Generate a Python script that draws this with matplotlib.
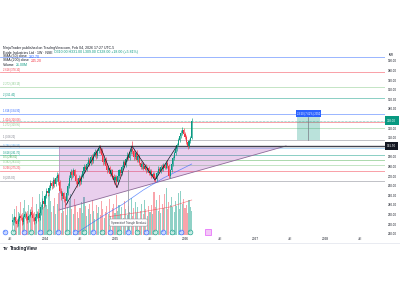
import matplotlib
matplotlib.use("Agg")
import matplotlib.pyplot as plt
import numpy as np
from matplotlib.patches import Polygon, Rectangle
from matplotlib.lines import Line2D

plt.rcParams["font.family"] = ["Liberation Sans", "DejaVu Sans"]

# weekly candles, x = weeks since 2023-01-01
first_week = 28
closes = [
    224, 227, 223, 220, 225, 229, 226, 222, 228, 231,
    227, 224, 229, 233, 230, 226, 223, 228, 231, 226,
    232, 238, 244, 241, 249, 255, 252, 258, 263, 260,
    266, 262, 268, 271, 264, 255, 249, 252, 246, 244,
    252, 260, 268, 274, 271, 276, 270, 265, 262, 268,
    264, 270, 275, 280, 277, 283, 287, 284, 290, 286,
    292, 295, 291, 296, 299, 297, 292, 285, 288, 281,
    276, 279, 272, 276, 270, 266, 269, 264, 270, 276,
    273, 280, 285, 282, 288, 292, 289, 295, 298, 296,
    290, 294, 287, 291, 284, 280, 283, 278, 281, 276,
    279, 273, 275, 270, 272, 268, 267, 273, 278, 275,
    280, 277, 282, 279, 284, 281, 270, 276, 283, 289,
    294, 298, 303, 308, 312, 315, 318, 314, 311, 306,
    301, 307, 310, 328,
]
highs = [
    227, 229, 228, 225, 227, 232, 231, 228, 230, 234,
    233, 229, 231, 236, 235, 232, 228, 230, 234, 233,
    234, 241, 247, 246, 251, 258, 257, 261, 266, 265,
    269, 268, 270, 274, 273, 266, 258, 255, 254, 249,
    254, 263, 271, 277, 276, 279, 278, 272, 268, 271,
    270, 272, 278, 283, 282, 285, 290, 289, 292, 293,
    294, 298, 297, 298, 302, 302, 299, 294, 290, 290,
    284, 281, 281, 278, 278, 272, 271, 271, 272, 278,
    278, 282, 287, 287, 290, 295, 294, 297, 301, 307,
    298, 296, 297, 293, 293, 286, 285, 285, 283, 283,
    281, 281, 277, 277, 274, 274, 270, 275, 281, 280,
    282, 283, 284, 284, 286, 287, 283, 278, 285, 291,
    296, 300, 305, 310, 314, 318, 321, 320, 316, 313,
    308, 309, 312, 331,
]
lows = [
    219, 222, 221, 217, 218, 223, 224, 219, 220, 226,
    224, 221, 222, 227, 228, 223, 220, 221, 226, 223,
    224, 230, 236, 238, 239, 247, 249, 250, 256, 257,
    258, 259, 260, 265, 261, 252, 245, 246, 243, 238,
    242, 250, 258, 266, 268, 269, 267, 262, 259, 260,
    261, 262, 268, 273, 274, 275, 281, 281, 282, 283,
    284, 290, 288, 289, 294, 294, 289, 282, 283, 278,
    273, 274, 270, 270, 267, 262, 264, 259, 262, 268,
    270, 271, 278, 280, 280, 286, 287, 287, 293, 293,
    287, 288, 285, 285, 282, 277, 278, 276, 276, 273,
    274, 271, 271, 268, 268, 265, 264, 265, 271, 273,
    273, 275, 275, 277, 277, 279, 268, 268, 274, 281,
    287, 292, 296, 301, 306, 310, 313, 312, 309, 304,
    298, 299, 305, 309,
]
vols = [
    18, 22, 15, 25, 20, 14, 28, 19, 23, 30,
    17, 21, 26, 16, 24, 33, 20, 18, 27, 22,
    35, 28, 38, 24, 31, 26, 22, 34, 29, 20,
    25, 32, 18, 27, 36, 23, 19, 30, 21, 26,
    17, 24, 29, 35, 22, 18, 31, 26, 20, 15,
    23, 28, 19, 33, 25, 16, 22, 27, 18, 30,
    21, 14, 26, 19, 24, 17, 29, 22, 15, 20,
    25, 18, 31, 16, 23, 27, 19, 34, 21, 26,
    18, 24, 15, 29, 22, 17, 25, 20, 32, 16,
    23, 28, 19, 24, 14, 21, 27, 18, 30, 22,
    16, 25, 20, 26, 18, 37, 24, 30, 21, 34,
    19, 27, 23, 35, 40, 22, 28, 26, 33, 24,
    20, 29, 25, 36, 22, 38, 27, 31, 23, 26,
    19, 30, 24, 21,
]
first_open = 222

# moving averages (sampled points)
sma50_weeks = [65, 80, 95, 110, 125, 140, 155, 161]
sma50_vals = [201.5, 215.0, 228.5, 241.0, 255.6, 268.1, 278.5, 282.7]
sma200_weeks = [100, 125, 145, 161]
sma200_vals = [228.0, 233.0, 238.0, 245.2]

# drawings
fib_low, fib_high = 265.0, 308.2
fib_levels = [0, 0.236, 0.382, 0.5, 0.618, 0.786, 1, 1.272, 1.414, 1.618, 2, 2.272, 2.618, 3]
fib_colors = ["#787b86", "#f23645", "#81c784", "#4caf50", "#089981", "#64b5f6", "#787b86",
              "#81c784", "#f23645", "#2962ff", "#089981", "#81c784", "#f23645", "#2962ff"]
hline_price = 301.5
triangle_weeks = [62.4, 62.4, 231.1]
triangle_prices = [301.5, 234.8, 301.5]
zigzag_weeks = [67.6, 92.9, 105.5, 116.6, 133.7, 150.0]
zigzag_prices = [240, 301.5, 258, 301.5, 266, 301.5]
vline_week, vline_top = 113.7, 276
pattern_label = "Symmetrical Triangle Breakout"
long_start, long_end = 239.2, 256.3
long_entry, long_target = 308.2, 331.7

earn_weeks = [22.3, 36.4, 48.3, 61.7, 74.3, 87.7, 100.3, 113.7, 127, 139.7, 153]
div_weeks = [28.5, 41.5, 55, 68, 81, 94, 107, 120.5, 133.5, 146.5, 159.5]
next_earn_week = 173

tick_weeks = [26, 52, 78, 104, 130, 156, 182, 208, 234, 260, 286]
tick_labels = ["Jul", "2024", "Jul", "2025", "Jul", "2026", "Jul", "2027", "Jul", "2028", "Jul"]
price_ticks = list(range(210, 400, 10))

UP, DOWN = "#089981", "#f23645"
W, H = 400, 300


def fx(px):
    return px / W


def fy(py):
    return 1 - py / H


fig = plt.figure(figsize=(4, 3), dpi=100)
fig.patch.set_facecolor("white")
renderer = fig.canvas.get_renderer()


def text_run(x_px, y_px, parts, size=2.5):
    """Place (text, colour) parts one after another on a header line."""
    x = x_px
    for s, col in parts:
        t = fig.text(fx(x), fy(y_px), s, fontsize=size, color=col, va="center")
        x = t.get_window_extent(renderer).x1 + 1.5


ax = fig.add_axes([0, fy(235), 385 / W, (235 - 44) / H])
vax = ax.twinx()
ax.set_zorder(vax.get_zorder() + 1)
ax.patch.set_visible(False)

weeks = first_week + np.arange(len(closes))
opens = np.array([first_open] + closes[:-1])
closes_a = np.array(closes)
up = closes_a >= opens
colors = np.where(up, UP, DOWN)

# volume
vax.bar(weeks, vols, width=0.8, color=colors, alpha=0.45, linewidth=0)
vax.set_ylim(0, 164)
vax.set_yticks([])
for s in vax.spines.values():
    s.set_visible(False)

# fib levels
for lvl, col in zip(fib_levels, fib_colors):
    p = fib_low + lvl * (fib_high - fib_low)
    ax.axhline(p, color=col, lw=0.6, alpha=0.55, zorder=1)
    if lvl != 3:
        ax.annotate(f"{lvl:g} ({p:.2f})", (20.5, p), xytext=(0, 0.6), textcoords="offset points",
                    fontsize=1.9, color=col, va="bottom", ha="left")

# triangle + horizontal line
ax.add_patch(Polygon(list(zip(triangle_weeks, triangle_prices)), closed=True,
                     facecolor="#9c27b0", alpha=0.22, edgecolor="none", zorder=1))
ax.plot(triangle_weeks[1:], triangle_prices[1:], color="#8e6a99", lw=0.6, zorder=2)
ax.plot(triangle_weeks[:2], triangle_prices[:2], color="#b58fc0", lw=0.5, zorder=2)
ax.axhline(hline_price, color="#434651", lw=1.0, zorder=3)

# moving averages
ax.plot(sma50_weeks, sma50_vals, color="#2962ff", lw=0.5, alpha=0.7, zorder=2)
ax.plot(sma200_weeks, sma200_vals, color=DOWN, lw=0.5, alpha=0.6, zorder=2)

# candles
ax.vlines(weeks, lows, highs, colors=colors, lw=0.45, zorder=4)
ax.bar(weeks, np.abs(closes_a - opens), bottom=np.minimum(opens, closes_a), width=0.8,
       color=colors, linewidth=0, zorder=4)

# zigzag and vertical marker
ax.plot(zigzag_weeks, zigzag_prices, color="#131722", lw=0.5, zorder=5)
ax.plot([vline_week, vline_week], [vline_top, 190], color="#9598a1", lw=0.6, zorder=3)
ax.text(114, 221.7, pattern_label, fontsize=1.9, color="#434651", ha="center", va="center", zorder=6,
        bbox=dict(boxstyle="round,pad=0.6", fc="white", ec="#9598a1", lw=0.4))

# last price line
ax.axhline(closes[-1], color=UP, lw=0.4, ls=(0, (1, 1.5)), zorder=3)

# long position tool
ax.add_patch(Rectangle((long_start, long_entry), long_end - long_start, long_target - long_entry,
                       facecolor=UP, alpha=0.28, edgecolor="none", zorder=2))
mid = (long_start + long_end) / 2
ax.plot([mid, mid], [long_entry, long_target], color="#787b86", lw=0.5, zorder=3)
diff = long_target - long_entry
ax.text(mid, long_target + 3.6, f"{diff:.2f} ({diff / long_entry * 100:.2f}%) {diff * 100:.0f}",
        fontsize=1.9, color="white", ha="center", va="center", zorder=6,
        bbox=dict(boxstyle="square,pad=0.5", fc="#2962ff", ec="none"))

# events
ax.scatter(earn_weeks, [212] * len(earn_weeks), s=12, facecolor="#c9d6ff", edgecolor="#2962ff",
           lw=0.4, zorder=6)
ax.scatter(div_weeks, [212] * len(div_weeks), s=12, facecolor="#c6ebe4", edgecolor=UP,
           lw=0.4, zorder=6)
ax.scatter([next_earn_week], [212], s=14, marker="s", facecolor="#f3c6f7", edgecolor="#e040fb",
           lw=0.4, zorder=6)
for w in earn_weeks:
    ax.text(w, 212, "E", fontsize=1.6, color="#2962ff", ha="center", va="center", zorder=7)
for w in div_weeks:
    ax.text(w, 212, "D", fontsize=1.6, color=UP, ha="center", va="center", zorder=7)

# axes; tick labels under the price tags are hidden, as on the chart
ax.set_xlim(18.57, 304.6)
ax.set_ylim(208.75, 407.7)
ax.yaxis.tick_right()
ax.set_yticks(price_ticks)
tag_prices = [closes[-1], hline_price]
ax.set_yticklabels(["" if min(abs(v - t) for t in tag_prices) < 6 else f"{v:.2f}"
                    for v in price_ticks])
ax.tick_params(axis="y", length=0, pad=2.2, labelsize=2.2, labelcolor="#131722")
ax.set_xticks(tick_weeks)
ax.set_xticklabels(tick_labels)
ax.tick_params(axis="x", length=0, pad=1.6, labelsize=2.3, labelcolor="#131722")
for s in ax.spines.values():
    s.set_visible(False)

# price tags
ytr = ax.get_yaxis_transform()
ax.text(1.006, closes[-1], f"{closes[-1]:.2f}", transform=ytr, fontsize=2.2, color="white",
        va="center", ha="left", clip_on=False, zorder=8,
        bbox=dict(boxstyle="square,pad=0.8", fc=UP, ec="none"))
ax.text(1.006, hline_price, f"{hline_price:.2f}", transform=ytr, fontsize=2.2, color="white",
        va="center", ha="left", clip_on=False, zorder=8,
        bbox=dict(boxstyle="square,pad=0.6", fc="#131722", ec="none"))
fig.text(fx(389), fy(55), "INR", fontsize=2.2, color="#131722", va="center")

# header
text_run(3, 48, [("NinjaTrader published on TradingView.com, Feb 04, 2026 17:27 UTC-5", "#131722")])
text_run(3, 52.5, [("Exide Industries Ltd · 1W · NSE", "#131722"),
                   ("O310.00 H331.00 L309.00 C328.00 +18.00 (+5.81%)", UP)])
text_run(3, 56.5, [("SMA (50) close", "#131722"), (f"{sma50_vals[-1]:.2f}", "#2962ff")])
text_run(3, 60.5, [("SMA (200) close", "#131722"), (f"{sma200_vals[-1]:.2f}", DOWN)])
text_run(3, 64.5, [("Volume", "#131722"), (f"{vols[-1]:.2f}M", UP)])

# bottom bar
fig.add_artist(Line2D([0, 1], [fy(243), fy(243)], color="#e0e3eb", lw=0.5))
text_run(3, 248.5, [("TV", "#131722")], size=3.2)
fig.text(fx(9.5), fy(248.5), "TradingView", fontsize=3.3, fontweight="bold", color="#131722",
         va="center")
fig.texts[-2].set_fontweight("bold")

fig.savefig("out.png", dpi=100, facecolor="white")
